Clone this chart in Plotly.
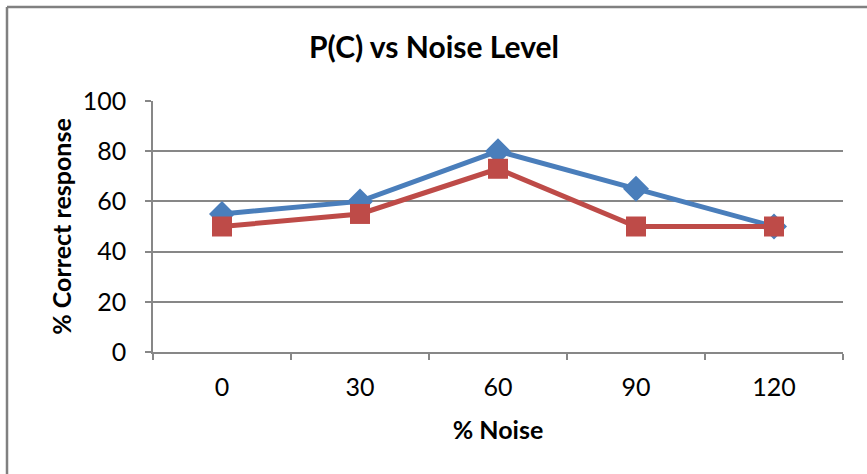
import plotly.graph_objects as go

categories = ["0", "30", "60", "90", "120"]
series_a = [55, 60, 80, 65, 50]
series_b = [50, 55, 73, 50, 50]
y_ticks = [0, 20, 40, 60, 80, 100]

W, H = 867, 474
L, R, T, B = 153, 24, 101, 122
pw, ph = W - L - R, H - T - B

FONT = "Lato, 'Open Sans', sans-serif"
GRID = "#878787"

fig = go.Figure()
fig.add_trace(go.Scatter(
    x=categories, y=series_a, mode="lines+markers", name="A",
    line=dict(color="#4A7EBB", width=5),
    marker=dict(symbol="diamond", size=20, color="#4A7EBB"),
))
fig.add_trace(go.Scatter(
    x=categories, y=series_b, mode="lines+markers", name="B",
    line=dict(color="#BE4B48", width=5),
    marker=dict(symbol="square", size=20, color="#BE4B48"),
))

# outer chart frame: left and top edges (the frame runs past the right/bottom edges)
fig.add_shape(type="line", xref="paper", yref="paper",
              x0=(7 - L) / pw, x1=(W + 5 - L) / pw,
              y0=1 + (T - 7) / ph, y1=1 + (T - 7) / ph,
              line=dict(color="#808080", width=2.5), layer="above")
fig.add_shape(type="line", xref="paper", yref="paper",
              x0=(7 - L) / pw, x1=(7 - L) / pw,
              y0=1 + (T - 7) / ph, y1=-(B + 5) / ph,
              line=dict(color="#808080", width=2.5), layer="above")

fig.update_layout(
    width=W, height=H,
    margin=dict(l=L, r=R, t=T, b=B, autoexpand=False),
    paper_bgcolor="white", plot_bgcolor="white",
    showlegend=False,
    font=dict(family=FONT, color="black", size=25),
    title=dict(text="<b>P(C) vs Noise Level</b>", x=434 / W, xanchor="center",
               y=1 - 47 / H, yanchor="middle", font=dict(size=30, family=FONT)),
    xaxis=dict(
        type="category", showgrid=False, showline=True, linecolor=GRID, linewidth=1.5,
        ticks="outside", tickson="boundaries", ticklen=6, tickcolor=GRID, tickwidth=1.5,
        tickfont=dict(size=25), range=[-0.5, 4.5], ticklabelstandoff=12,
        title=dict(text="<b>% Noise</b>", font=dict(size=25), standoff=22),
    ),
    yaxis=dict(
        range=[0, 100], tickvals=y_ticks, showgrid=True, gridcolor=GRID, gridwidth=1.5,
        showline=True, linecolor=GRID, linewidth=1.5, zeroline=False,
        ticks="outside", ticklen=6, tickcolor=GRID, tickwidth=1.5,
        tickfont=dict(size=25), ticklabelstandoff=14,
        title=dict(text="<b>% Correct response</b>", font=dict(size=25), standoff=4),
    ),
)

html = fig.to_html(config={"displayModeBar": False}, full_html=True)
html = html.replace("<head>", "<head><style>html,body{margin:0;padding:0;overflow:hidden;}</style>", 1)
with open("out.html", "w", encoding="utf-8") as f:
    f.write(html)
